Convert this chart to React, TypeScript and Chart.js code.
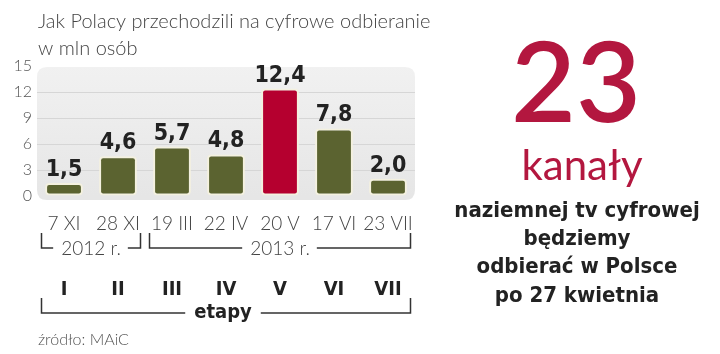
import React, { useEffect, useRef } from 'react';
import { Chart, registerables } from 'chart.js';
Chart.register(...registerables);

const categories = ['7 XI', '28 XI', '19 III', '22 IV', '20 V', '17 VI', '23 VII'];
const values = [1.5, 4.6, 5.7, 4.8, 12.4, 7.8, 2.0];
const stages = ['I', 'II', 'III', 'IV', 'V', 'VI', 'VII'];
const yearLabels = ['2012 r.', '2013 r.'];
const yearFirst = [0, 2];
const yearLast = [1, 6];
const highlightIndex = 4;
const yMax = 15;
const yStep = 3;
const titleLines = ['Jak Polacy przechodzili na cyfrowe odbieranie', 'w mln osób'];
const stagesLabel = 'etapy';
const sourceText = 'źródło: MAiC';
const bigNumber = '23';
const bigUnit = 'kanały';
const sideLines = ['naziemnej tv cyfrowej', 'będziemy', 'odbierać w Polsce', 'po 27 kwietnia'];

const OLIVE = '#5b6330';
const RED = '#b5002f';
const BIG_RED = '#b3173f';
const LIGHT_FONT = 'Lato';
const BOLD_FONT = '"DejaVu Sans Condensed", "DejaVu Sans", sans-serif';

function roundRect(ctx: CanvasRenderingContext2D, x: number, y: number, w: number, h: number, r: number) {
  ctx.beginPath();
  ctx.moveTo(x + r, y);
  ctx.lineTo(x + w - r, y);
  ctx.quadraticCurveTo(x + w, y, x + w, y + r);
  ctx.lineTo(x + w, y + h - r);
  ctx.quadraticCurveTo(x + w, y + h, x + w - r, y + h);
  ctx.lineTo(x + r, y + h);
  ctx.quadraticCurveTo(x, y + h, x, y + h - r);
  ctx.lineTo(x, y + r);
  ctx.quadraticCurveTo(x, y, x + r, y);
  ctx.closePath();
}

const decorPlugin = {
  id: 'decor',
  beforeDraw(chart: any) {
    const { ctx, chartArea } = chart;
    const { left, right, top, bottom } = chartArea;
    ctx.save();
    const g = ctx.createLinearGradient(0, top, 0, bottom);
    g.addColorStop(0, '#f1f1f1');
    g.addColorStop(1, '#e6e6e6');
    ctx.fillStyle = g;
    roundRect(ctx, left, top + 1, right - left, bottom - top + 3, 10);
    ctx.fill();
    ctx.restore();
  },
  afterDatasetsDraw(chart: any) {
    const { ctx } = chart;
    const meta = chart.getDatasetMeta(0);
    ctx.save();
    ctx.fillStyle = '#222';
    ctx.font = 'bold 23px ' + BOLD_FONT;
    ctx.textAlign = 'center';
    ctx.textBaseline = 'alphabetic';
    meta.data.forEach((el: any, i: number) => {
      const label = values[i].toFixed(1).replace('.', ',');
      ctx.fillText(label, el.x, el.y - 7);
    });
    ctx.restore();
  },
  afterDraw(chart: any) {
    const { ctx } = chart;
    const xs = chart.scales.x;
    const meta = chart.getDatasetMeta(0);
    ctx.save();

    // title
    ctx.fillStyle = '#444';
    ctx.font = '300 20px ' + LIGHT_FONT;
    ctx.textAlign = 'left';
    ctx.textBaseline = 'alphabetic';
    ctx.fillText(titleLines[0], 38, 28);
    ctx.fillText(titleLines[1], 38, 55);

    // year brackets
    ctx.strokeStyle = '#333';
    ctx.lineWidth = 1.5;
    ctx.font = '300 19px ' + LIGHT_FONT;
    ctx.fillStyle = '#444';
    ctx.textAlign = 'center';
    const bw = meta.data[0].width;
    yearLabels.forEach((lab, k) => {
      const x1 = Math.round(xs.getPixelForValue(yearFirst[k]) - bw / 2 - 4) + 0.5;
      const x2 = Math.round(xs.getPixelForValue(yearLast[k]) + bw / 2 + 3) + 0.5;
      const yl = 248;
      const cx = (x1 + x2) / 2;
      const tw = ctx.measureText(lab).width;
      ctx.beginPath();
      ctx.moveTo(x1, 233);
      ctx.lineTo(x1, yl);
      ctx.lineTo(cx - tw / 2 - 8, yl);
      ctx.moveTo(cx + tw / 2 + 7, yl);
      ctx.lineTo(x2, yl);
      ctx.lineTo(x2, 233);
      ctx.stroke();
      ctx.fillText(lab, cx, 255);
    });

    // stages
    ctx.fillStyle = '#222';
    ctx.font = 'bold 20px ' + BOLD_FONT;
    stages.forEach((s, i) => {
      ctx.fillText(s, xs.getPixelForValue(i), 295);
    });

    // etapy bracket
    {
      const x1 = Math.round(xs.getPixelForValue(0) - bw / 2 - 4) + 0.5;
      const x2 = Math.round(xs.getPixelForValue(stages.length - 1) + bw / 2 + 3) + 0.5;
      const yl = 313;
      const cx = (x1 + x2) / 2 - 3;
      ctx.font = 'bold 20px ' + BOLD_FONT;
      const tw = ctx.measureText(stagesLabel).width;
      ctx.beginPath();
      ctx.moveTo(x1, 298);
      ctx.lineTo(x1, yl);
      ctx.lineTo(cx - tw / 2 - 9, yl);
      ctx.moveTo(cx + tw / 2 + 9, yl);
      ctx.lineTo(x2, yl);
      ctx.lineTo(x2, 298);
      ctx.stroke();
      ctx.fillText(stagesLabel, cx, 318);
    }

    // source
    ctx.fillStyle = '#555';
    ctx.font = '300 16px ' + LIGHT_FONT;
    ctx.textAlign = 'left';
    ctx.fillText(sourceText, 38, 345);

    // right panel
    ctx.textAlign = 'center';
    ctx.fillStyle = BIG_RED;
    ctx.font = '600 112px ' + LIGHT_FONT;
    ctx.fillText(bigNumber, 576, 122);
    ctx.font = '400 42px ' + LIGHT_FONT;
    ctx.fillText(bigUnit, 582, 180);
    ctx.fillStyle = '#222';
    ctx.font = 'bold 22px ' + BOLD_FONT;
    const bl = [217, 245, 273, 302];
    sideLines.forEach((t, i) => ctx.fillText(t, 577, bl[i]));

    ctx.restore();
  },
};

export default function App() {
  const ref = useRef<HTMLCanvasElement>(null);
  useEffect(() => {
    if (!ref.current) return;
    const chart = new Chart(ref.current, {
      type: 'bar',
      data: {
        labels: categories,
        datasets: [
          {
            data: values,
            backgroundColor: values.map((_, i) => (i === highlightIndex ? RED : OLIVE)),
            borderColor: '#f4f1df',
            borderWidth: 2,
            borderRadius: 4,
            borderSkipped: false,
            barPercentage: 0.7,
            categoryPercentage: 1,
          },
        ],
      },
      options: {
        responsive: false,
        animation: false,
        devicePixelRatio: 1,
        layout: { padding: { left: 0, right: 305, top: 66, bottom: 0 } },
        plugins: { legend: { display: false }, tooltip: { enabled: false }, title: { display: false } },
        scales: {
          x: {
            grid: { display: false, drawTicks: false },
            border: { display: false },
            ticks: {
              color: '#444',
              font: { family: LIGHT_FONT, size: 19, weight: '300' as any },
              padding: 16,
              maxRotation: 0,
              autoSkip: false,
            },
            afterFit: (s: any) => {
              s.height = 158;
            },
          },
          y: {
            min: 0,
            max: yMax,
            ticks: {
              stepSize: yStep,
              color: '#555',
              font: { family: LIGHT_FONT, size: 16, weight: '300' as any },
              padding: 5,
            },
            grid: {
              drawTicks: false,
              color: (c: any) => (c.tick && (c.tick.value === 0 || c.tick.value === yMax) ? 'rgba(0,0,0,0)' : '#d6d6d6'),
            },
            border: { display: false },
            afterFit: (s: any) => {
              s.width = 37;
            },
          },
        },
      },
      plugins: [decorPlugin],
    });
    return () => chart.destroy();
  }, []);
  return (
    <div style={{ position: 'absolute', left: 0, top: 0, width: 720, height: 354, background: '#fff' }}>
      <canvas ref={ref} width={720} height={354} style={{ display: 'block' }} />
    </div>
  );
}
